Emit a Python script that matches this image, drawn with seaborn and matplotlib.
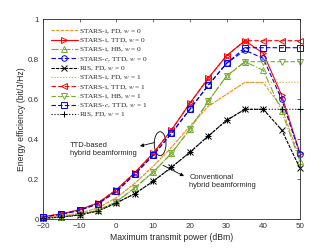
import matplotlib
matplotlib.use("Agg")
import matplotlib.pyplot as plt
from matplotlib.patches import Ellipse
import seaborn as sns
import pandas as pd

power_dbm = [-20, -15, -10, -5, 0, 5, 10, 15, 20, 25, 30, 35, 40, 45, 50]

fd_w0 = [0.008, 0.016, 0.030, 0.057, 0.108, 0.180, 0.265, 0.360, 0.465, 0.565, 0.625, 0.685, 0.683, 0.560, 0.300]
ttd_w0 = [0.013, 0.027, 0.048, 0.082, 0.148, 0.233, 0.330, 0.447, 0.580, 0.705, 0.818, 0.893, 0.830, 0.620, 0.330]
hb_w0 = [0.006, 0.012, 0.025, 0.045, 0.088, 0.157, 0.236, 0.330, 0.450, 0.590, 0.716, 0.788, 0.745, 0.540, 0.290]
starsc_w0 = [0.012, 0.025, 0.045, 0.078, 0.140, 0.225, 0.320, 0.430, 0.550, 0.670, 0.780, 0.845, 0.805, 0.600, 0.325]
ris_w0 = [0.005, 0.011, 0.022, 0.042, 0.082, 0.128, 0.190, 0.260, 0.335, 0.416, 0.495, 0.550, 0.550, 0.447, 0.255]

fd_w1 = [0.008, 0.016, 0.030, 0.057, 0.108, 0.180, 0.265, 0.360, 0.465, 0.565, 0.625, 0.685, 0.685, 0.685, 0.685]
ttd_w1 = [0.013, 0.027, 0.048, 0.082, 0.148, 0.233, 0.330, 0.447, 0.580, 0.705, 0.818, 0.893, 0.893, 0.893, 0.893]
hb_w1 = [0.006, 0.012, 0.025, 0.045, 0.088, 0.157, 0.236, 0.330, 0.450, 0.590, 0.716, 0.788, 0.788, 0.788, 0.788]
starsc_w1 = [0.012, 0.025, 0.045, 0.078, 0.140, 0.225, 0.320, 0.430, 0.550, 0.670, 0.780, 0.858, 0.858, 0.858, 0.858]
ris_w1 = [0.005, 0.011, 0.022, 0.042, 0.082, 0.128, 0.190, 0.260, 0.335, 0.416, 0.495, 0.550, 0.550, 0.550, 0.550]

labels = [
    r"STARS-i, FD, $w$ = 0",
    r"STARS-i, TTD, $w$ = 0",
    r"STARS-i, HB, $w$ = 0",
    r"STARS-$c$, TTD, $w$ = 0",
    r"RIS, FD, $w$ = 0",
    r"STARS-i, FD, $w$ = 1",
    r"STARS-i, TTD, $w$ = 1",
    r"STARS-i, HB, $w$ = 1",
    r"STARS-$c$, TTD, $w$ = 1",
    r"RIS, FD, $w$ = 1",
]
series = [fd_w0, ttd_w0, hb_w0, starsc_w0, ris_w0, fd_w1, ttd_w1, hb_w1, starsc_w1, ris_w1]

ORANGE = "#EE9428"
RED = "#FF0000"
GREEN = "#77AC30"
BLUE = "#0000FF"
BLACK = "#000000"

styles = [
    dict(color=ORANGE, ls=(0, (3, 1.2)), marker=None),
    dict(color=RED, ls="-", marker=">"),
    dict(color=GREEN, ls="-.", marker="^"),
    dict(color=BLUE, ls=(0, (4, 2)), marker="o"),
    dict(color=BLACK, ls=(0, (3, 1)), marker="x"),
    dict(color=ORANGE, ls=":", marker=None),
    dict(color=RED, ls=(0, (4, 2)), marker="<"),
    dict(color=GREEN, ls=(0, (4, 2)), marker="v"),
    dict(color=BLUE, ls=(0, (4, 2)), marker="s"),
    dict(color=BLACK, ls=":", marker="+"),
]

sns.set_theme(style="white")
plt.rcParams["font.family"] = ["Liberation Sans", "DejaVu Sans"]
plt.rcParams["mathtext.fontset"] = "stix"

fig = plt.figure(figsize=(3.32, 2.48), dpi=100)
ax = fig.add_axes([0.1295, 0.1157, 0.7741, 0.8065])

for vals, lab, st in zip(series, labels, styles):
    df = pd.DataFrame({"p": power_dbm, "ee": vals})
    kw = dict(color=st["color"], linestyle=st["ls"], linewidth=0.8, label=lab, clip_on=False)
    if st["marker"] is not None:
        kw.update(marker=st["marker"], markersize=4.0, markerfacecolor="none",
                  markeredgecolor=st["color"], markeredgewidth=0.7)
    sns.lineplot(data=df, x="p", y="ee", ax=ax, **kw)

ax.set_xlim(-20, 50)
ax.set_ylim(0, 1)
ax.set_xticks([-20, -10, 0, 10, 20, 30, 40, 50])
ax.set_yticks([0, 0.2, 0.4, 0.6, 0.8, 1.0])
ax.set_yticklabels(["0", "0.2", "0.4", "0.6", "0.8", "1"])
ax.tick_params(direction="in", length=2.5, width=0.5, top=True, right=True,
               labelsize=5.8, colors="#333333", pad=3)
for sp in ax.spines.values():
    sp.set_color("#262626")
    sp.set_linewidth(0.6)
ax.set_xlabel("Maximum transmit power (dBm)", fontsize=6.2, color="#262626", labelpad=1.5)
ax.set_ylabel("Energy efficiency (bit/J/Hz)", fontsize=6.2, color="#262626", labelpad=1.5)

leg = ax.legend(loc="upper left", bbox_to_anchor=(0.0, 1.0), frameon=False,
                prop={"family": "Liberation Serif", "size": 5.3},
                handlelength=3.6, handletextpad=0.2, labelspacing=0.14,
                borderaxespad=0.2, borderpad=0.9)

# Annotations
ax.add_patch(Ellipse((11.9, 0.378), 3.2, 0.12, fill=False, lw=0.6, color="black"))
ax.annotate("", xy=(6.4, 0.366), xytext=(10.4, 0.384),
            arrowprops=dict(arrowstyle="-|>", lw=0.6, color="black", mutation_scale=5,
                            shrinkA=0, shrinkB=0))
ax.text(-12.6, 0.35, "TTD-based\nhybrid beamforming", fontsize=5.4, ha="left", va="center",
        color="#262626", linespacing=1.3)

ax.annotate("", xy=(18.4, 0.216), xytext=(12.7, 0.27),
            arrowprops=dict(arrowstyle="-|>", lw=0.6, color="black", mutation_scale=5,
                            shrinkA=0, shrinkB=0))
ax.text(19.9, 0.19, "Conventional\nhybrid beamforming", fontsize=5.4, ha="left", va="center",
        color="#262626", linespacing=1.3)

fig.savefig("out.png", dpi=100)
